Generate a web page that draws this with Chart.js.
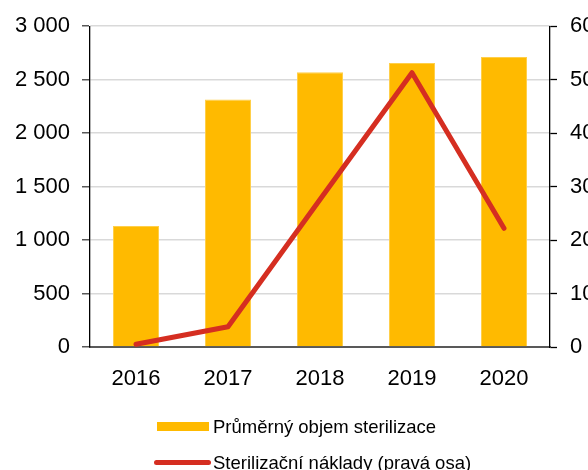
<!DOCTYPE html>
<html>
<head>
<meta charset="utf-8">
<script src="https://cdn.jsdelivr.net/npm/chart.js@4/dist/chart.umd.min.js"></script>
<style>
  body { margin: 0; background: #fff; }
  #wrap { position: relative; width: 588px; height: 470px; overflow: hidden; font-family: "Liberation Sans", Arial, sans-serif; }
  .lg-text { position: absolute; left: 213px; font-size: 18.5px; line-height: 18px; color: #000; white-space: nowrap; }
  .lg-swatch { position: absolute; }
</style>
</head>
<body>
<div id="wrap">
  <canvas id="chart" width="588" height="470"></canvas>
  <div id="legend"></div>
</div>
<script>
const roky = ["2016", "2017", "2018", "2019", "2020"];
const objem = [1132, 2314, 2570, 2655, 2711];
const naklady = [0.5, 3.8, 27.6, 51.3, 22.2];
const nazevObjem = "Průměrný objem sterilizace";
const nazevNaklady = "Sterilizační náklady (pravá osa)";

const barva = "#FFBA00";
const cervena = "#D52E21";
const font = { family: '"Liberation Sans", Arial, sans-serif', size: 22 };

// mezery jako oddělovač tisíců
function fmt(v) {
  return String(v).replace(/\B(?=(\d{3})+(?!\d))/g, " ");
}

new Chart(document.getElementById("chart"), {
  data: {
    labels: roky,
    datasets: [
      {
        type: "line",
        label: nazevNaklady,
        data: naklady,
        yAxisID: "y2",
        borderColor: cervena,
        borderWidth: 5,
        borderCapStyle: "round",
        borderJoinStyle: "round",
        pointRadius: 0,
        tension: 0,
        order: 1,
      },
      {
        type: "bar",
        label: nazevObjem,
        data: objem,
        yAxisID: "y",
        backgroundColor: barva,
        borderColor: "#FFCF4A",
        borderWidth: 1,
        barPercentage: 0.5,
        categoryPercentage: 1,
        order: 2,
      },
    ],
  },
  options: {
    responsive: false,
    animation: false,
    layout: { padding: { top: 25, right: 0, bottom: 0, left: 0 } },
    plugins: { legend: { display: false }, tooltip: { enabled: false } },
    scales: {
      x: {
        grid: { display: false },
        border: { color: "#595959", width: 2 },
        ticks: { color: "#000", font: font, padding: 11, maxRotation: 0 },
        afterFit: (s) => { s.height = 123; },
      },
      y: {
        position: "left",
        min: 0,
        max: 3000,
        ticks: { stepSize: 500, color: "#000", font: font, padding: 12, callback: (v) => fmt(v) },
        grid: { color: "#d9d9d9", lineWidth: 1.5, tickColor: "#595959", tickLength: 8, tickWidth: 1.5 },
        border: { color: "#000", width: 1.3 },
        afterFit: (s) => { s.width = 90; },
      },
      y2: {
        position: "right",
        min: 0,
        max: 60,
        ticks: { stepSize: 10, color: "#000", font: font, padding: 13 },
        grid: { drawOnChartArea: false, tickColor: "#000", tickLength: 7, tickWidth: 1.3 },
        border: { color: "#000", width: 1.3 },
        afterFit: (s) => { s.width = 38; },
      },
    },
  },
});

// legenda pod grafem
const legend = document.getElementById("legend");
legend.innerHTML =
  '<div class="lg-swatch" style="left:157px;top:422px;width:52px;height:9px;background:' + barva + '"></div>' +
  '<div class="lg-text" style="top:418px">' + nazevObjem + '</div>' +
  '<div class="lg-swatch" style="left:154px;top:460px;width:57px;height:5px;border-radius:3px;background:' + cervena + '"></div>' +
  '<div class="lg-text" style="top:454px">' + nazevNaklady + '</div>';
</script>
</body>
</html>
